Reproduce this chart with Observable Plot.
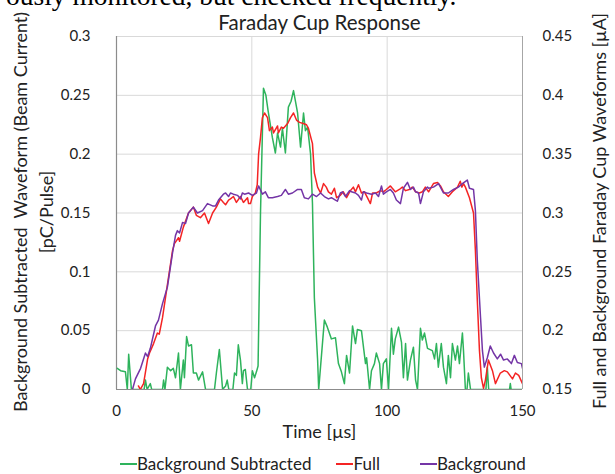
<!DOCTYPE html>
<html>
<head>
<meta charset="utf-8">
<script src="https://cdn.jsdelivr.net/npm/d3@7"></script>
<script src="https://cdn.jsdelivr.net/npm/@observablehq/plot@0.6"></script>
<style>
  html, body { margin: 0; padding: 0; background: #fff; }
  #wrap { position: relative; width: 615px; height: 474px; overflow: hidden; font-family: Lato, "Open Sans", sans-serif; }
  #chart { position: absolute; left: 0; top: 0; }
  #cut { position: absolute; left: 6px; top: -18px; font-family: "Liberation Serif", serif; font-size: 27.5px; line-height: 28px; color: #000; white-space: nowrap; z-index: 2; }
  #legend { position: absolute; left: 120px; top: 453px; font-size: 17px; color: #222; white-space: nowrap; display: flex; z-index: 2; }
  #legend .item { display: flex; align-items: center; }
  #legend .sw { display: inline-block; width: 17px; height: 2px; margin-right: 0px; }
</style>
</head>
<body>
<div id="wrap">
  <div id="chart"></div>
  <div id="cut">ously monitored, but checked frequently.</div>
  <div id="legend"></div>
</div>
<script>
// ---- Data ----
const seriesNames = ["Background Subtracted", "Full", "Background"];
const seriesColors = ["#2eb35c", "#f42424", "#7435a6"];

const xTicks = [0, 50, 100, 150];
const leftTicks = [0, 0.05, 0.1, 0.15, 0.2, 0.25, 0.3];
const rightOffset = 0.15; // right axis 0.15–0.45 µA maps onto left 0–0.3

// Background Subtracted [pC/Pulse] (left axis)
const subTime = [0.3,1.5,3.3,4,4.5,5.5,10.2,10.7,11.3,12.5,13,17,17.4,17.9,18.8,20,21,21.8,22.9,23.6,24.7,25.1,25.9,26.6,27.7,28.4,29.5,30.3,31.8,32.9,36.2,36.9,38,39.2,40.3,40.9,41.5,43,43.6,44.3,45,45.8,46.5,46.9,47.6,48.4,49.6,50.2,51,51.7,52.3,53.2,54.3,55.2,56,57.6,58.7,59.5,60.6,61.3,62.4,63.5,64.5,65.4,66.9,68,69.1,69.8,70.6,71.7,72.4,73.1,74.3,74.7,76.8,77.9,79.4,80.9,82,83.1,84.2,85,86.1,87.2,88.3,89,90.5,92,92.4,93.5,94.2,95.3,96,97.2,97.9,98.6,99.7,100.5,101.6,102.3,103,104.2,105.3,106,106.8,107.5,108.6,109.7,110.5,111.2,112.3,113,113.8,114.9,116.7,117.5,118.2,118.9,120,120.8,121.9,122.6,123.4,124.1,125.2,126,126.7,127.8,128.2,128.9,129.5,130,130.8,136.5,137,137.5,145.2,145.5,145.8,150];
const subValue = [0.018,0.016,0.015,0,0.03,0,0,0.008,0,0.005,0,0,0.008,0,0.019,0.016,0.018,0.010,0.031,0,0.025,0.010,0.045,0.037,0.038,0.014,0.014,0.008,0.015,0,0,0.014,0.034,0,0.003,0.008,0,0,0.014,0.012,0.038,0.025,0.005,0.016,0.017,0,0,0.016,0.010,0.015,0.02,0.15,0.256,0.25,0.237,0.214,0.201,0.218,0.206,0.222,0.201,0.240,0.245,0.254,0.235,0.206,0.235,0.220,0.223,0.200,0.158,0.078,0.025,0,0.059,0.053,0.043,0.044,0.022,0.015,0.005,0.029,0.014,0.054,0.039,0.051,0.050,0.022,0.027,0,0.016,0.022,0.031,0.022,0,0.022,0.026,0,0.052,0.030,0.043,0.053,0.040,0.010,0.039,0.008,0.025,0.036,0.008,0,0.052,0.042,0.048,0.035,0.033,0.026,0.039,0.019,0.039,0.019,0.005,0.029,0.010,0.039,0.025,0.037,0.022,0.048,0.033,0,0,0.014,0,0,0.019,0,0,0.005,0,0];

// Full [µA] (right axis)
const fullTime = [8.1,8.8,10,11.5,12.2,13.7,15.1,15.8,17,18.1,19.2,20.7,21.4,22.9,23.3,24.7,26.6,28.4,29.5,31,32.5,34,35.5,36.9,38.4,39.5,40.3,41.4,42.1,43.2,44.3,45.8,46.9,48.4,48.8,49.5,50.2,51.3,52,52.5,53.2,53.9,54.7,55.8,56.5,57.6,58,59.5,59.8,60.9,61.7,63.2,64.3,65.4,66.5,67.6,69,70.2,70.9,72.4,73.1,74.3,75.4,76.5,77.5,78.3,79.4,80.5,81.3,82.7,83.8,85,86.4,87.5,88.3,89.4,90.5,91.6,92.7,93.8,94.6,96,97.5,98.6,99.7,101.2,101.9,103,104.5,105.6,106.8,108.2,109.3,110.5,111.9,113,114.1,115.3,117.1,118.6,119.7,120.8,122.6,124.1,126,127,127.6,128.2,128.9,130.4,131.9,132.6,133.3,134.1,134.8,135.6,136.3,137.4,138.9,140,141.8,143.3,144.4,146.3,147.4,148.6,150];
const fullValue = [0.153,0.150,0.155,0.176,0.181,0.189,0.198,0.197,0.211,0.228,0.245,0.268,0.274,0.279,0.276,0.288,0.300,0.305,0.298,0.296,0.300,0.291,0.300,0.305,0.312,0.309,0.307,0.311,0.312,0.314,0.309,0.314,0.309,0.313,0.308,0.308,0.314,0.317,0.324,0.350,0.364,0.381,0.385,0.381,0.370,0.373,0.368,0.374,0.368,0.373,0.372,0.376,0.381,0.385,0.379,0.377,0.376,0.375,0.372,0.359,0.334,0.322,0.317,0.325,0.322,0.318,0.316,0.321,0.313,0.315,0.318,0.313,0.319,0.322,0.318,0.324,0.317,0.318,0.313,0.308,0.317,0.317,0.319,0.318,0.320,0.323,0.321,0.318,0.320,0.322,0.319,0.320,0.322,0.318,0.317,0.318,0.322,0.318,0.325,0.326,0.323,0.318,0.314,0.318,0.322,0.327,0.322,0.325,0.322,0.313,0.300,0.268,0.226,0.183,0.160,0.151,0.158,0.175,0.166,0.155,0.164,0.166,0.165,0.159,0.164,0.162,0.155];

// Background [µA] (right axis)
const bgTime = [5.9,7,8.9,10.7,11.5,12.5,14.4,15.5,17,18.8,20.7,21.8,22.5,23.3,24.4,25.5,26.6,28.4,29.9,31.8,33.6,35.5,36.6,37.7,39.5,40.3,41.4,42.1,43.2,44.7,45.8,46.5,47.3,48.8,50.2,51.7,52.5,53.9,55,56.1,57.6,59.5,60.9,62.4,63.5,65,66.9,68.3,69.4,70.9,72.4,73.9,75.4,76.8,78.3,79.4,80.9,81.6,82.7,83.5,84.6,86.1,86.8,88.3,89.4,90.5,91.2,92.4,94.2,95.7,96.8,97.9,98.6,99.7,101.2,102.3,103.4,104.9,106,107.5,108.6,109.7,110.5,111.6,112.3,113.4,114.9,115.3,117.1,119,120.8,122.6,124.5,126.3,127.8,129.6,130.4,131.9,132.6,133.3,134.5,135.2,135.9,137,138.1,139.3,140.7,141.9,143,144.4,145.9,147,148.1,149.6,150];
const bgValue = [0.150,0.159,0.168,0.181,0.178,0.185,0.204,0.209,0.223,0.237,0.266,0.281,0.285,0.283,0.292,0.291,0.300,0.305,0.300,0.302,0.308,0.306,0.306,0.311,0.316,0.317,0.314,0.317,0.316,0.315,0.312,0.317,0.316,0.317,0.315,0.317,0.323,0.316,0.318,0.313,0.313,0.314,0.315,0.320,0.316,0.317,0.320,0.320,0.313,0.312,0.316,0.314,0.317,0.314,0.312,0.313,0.311,0.310,0.317,0.318,0.314,0.319,0.318,0.317,0.315,0.311,0.318,0.317,0.316,0.317,0.314,0.323,0.316,0.318,0.320,0.317,0.311,0.308,0.321,0.326,0.320,0.322,0.318,0.317,0.308,0.318,0.322,0.321,0.322,0.325,0.317,0.317,0.320,0.322,0.325,0.328,0.321,0.320,0.302,0.260,0.211,0.183,0.169,0.177,0.187,0.181,0.176,0.180,0.175,0.176,0.172,0.179,0.173,0.172,0.168];

// ---- Build ----
const sub = subTime.map((t, i) => ({t, v: subValue[i]}));
const full = fullTime.map((t, i) => ({t, v: fullValue[i] - rightOffset}));
const bg = bgTime.map((t, i) => ({t, v: bgValue[i] - rightOffset}));

const fmt = v => String(+v.toFixed(2));

const chart = Plot.plot({
  width: 615,
  height: 474,
  marginTop: 36,
  marginBottom: 85,
  marginLeft: 116,
  marginRight: 93,
  style: {fontFamily: "Lato, 'Open Sans', sans-serif", fontSize: "15px", color: "#222", background: "#fff", overflow: "visible"},
  x: {domain: [0, 150]},
  y: {domain: [0, 0.3]},
  marks: [
    Plot.gridY(leftTicks, {stroke: "#d9d9d9", strokeOpacity: 1, strokeWidth: 1}),
    Plot.gridX([50, 100], {stroke: "#d9d9d9", strokeOpacity: 1, strokeWidth: 1}),
    Plot.ruleX([150], {stroke: "#a6a6a6", strokeWidth: 1}),
    Plot.ruleX([0], {stroke: "#8c8c8c", strokeWidth: 1.2}),
    Plot.ruleY([0], {stroke: "#8c8c8c", strokeWidth: 1.2}),
    Plot.line(sub, {x: "t", y: "v", stroke: seriesColors[0], strokeWidth: 1.5, clip: true}),
    Plot.line(full, {x: "t", y: "v", stroke: seriesColors[1], strokeWidth: 1.5, clip: true}),
    Plot.line(bg, {x: "t", y: "v", stroke: seriesColors[2], strokeWidth: 1.5, clip: true}),
    Plot.axisX(xTicks, {tickSize: 0, tickPadding: 16, fontSize: 15, label: null}),
    Plot.axisY(leftTicks, {anchor: "left", tickSize: 0, tickPadding: 26, tickFormat: fmt, fontSize: 15, label: null}),
    Plot.axisY(leftTicks, {anchor: "right", tickSize: 0, tickPadding: 20, tickFormat: v => fmt(v + rightOffset), fontSize: 15, label: null}),
    Plot.text(["Time [µs]"], {frameAnchor: "bottom", dy: 48, fontSize: 18, textAnchor: "middle"}),
    Plot.text(["Faraday Cup Response"], {frameAnchor: "top", dy: -21, fontSize: 20.5, textAnchor: "middle"}),
    Plot.text(["Background Subtracted  Waveform (Beam Current)"], {frameAnchor: "left", dx: -95, dy: -1, rotate: -90, fontSize: 18, textAnchor: "middle"}),
    Plot.text(["[pC/Pulse]"], {frameAnchor: "left", dx: -69, dy: -1, rotate: -90, fontSize: 18, textAnchor: "middle"}),
    Plot.text(["Full and Background Faraday Cup Waveforms [µA]"], {frameAnchor: "right", dx: 78, dy: -2, rotate: -90, fontSize: 18, textAnchor: "middle"})
  ]
});
document.getElementById("chart").appendChild(chart);

const legend = document.getElementById("legend");
const legendGaps = [25, 40, 0];
seriesNames.forEach((name, i) => {
  const item = document.createElement("span");
  item.className = "item";
  item.style.marginRight = legendGaps[i] + "px";
  const sw = document.createElement("span");
  sw.className = "sw";
  sw.style.background = seriesColors[i];
  item.appendChild(sw);
  item.appendChild(document.createTextNode(name));
  legend.appendChild(item);
});
</script>
</body>
</html>
